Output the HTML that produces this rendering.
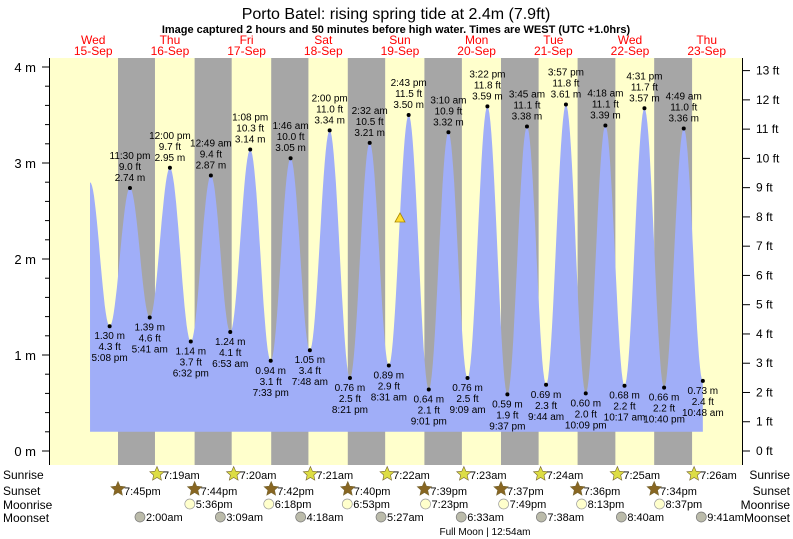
<!DOCTYPE html><html><head><meta charset="utf-8"><style>body{margin:0;background:#fff}svg{display:block;font-family:"Liberation Sans",sans-serif}</style></head><body>
<svg id="s" width="793" height="539" xmlns="http://www.w3.org/2000/svg"></svg>
<script>
var s=document.getElementById('s'),h='';
function X(t){return 54.9+t*3.195}
function Y(m){return 451-m*96}
h+='<rect x="50" y="58" width="692" height="407" fill="#ffffcc"/>';
var ss=[19.75,43.73,67.7,91.67,115.65,139.62,163.6,187.57],sr=[31.32,55.33,79.35,103.37,127.38,151.4,175.42,199.43];
for(var i=0;i<8;i++)h+='<rect x="'+X(ss[i])+'" y="58" width="'+(X(sr[i])-X(ss[i]))+'" height="407" fill="#a6a6a6"/>';
var ev=[[11,2.8],[17.13,1.30],[23.5,2.74],[29.68,1.39],[36,2.95],[42.53,1.14],[48.82,2.87],[54.88,1.24],[61.13,3.14],[67.55,0.94],[73.77,3.05],[79.8,1.05],[86,3.34],[92.35,0.76],[98.53,3.21],[104.52,0.89],[110.72,3.50],[117.02,0.64],[123.17,3.32],[129.15,0.76],[135.37,3.59],[141.62,0.59],[147.75,3.38],[153.73,0.69],[159.95,3.61],[166.15,0.60],[172.3,3.39],[178.28,0.68],[184.52,3.57],[190.67,0.66],[196.82,3.36],[202.8,0.73]];
var p='M'+X(11)+' '+Y(0.2);
for(var i=0;i<ev.length-1;i++){var a=ev[i],b=ev[i+1];for(var k=0;k<=20;k++){var f=k/20,t=a[0]+(b[0]-a[0])*f,m=a[1]+(b[1]-a[1])*(1-Math.cos(Math.PI*f))/2;p+=' L'+X(t).toFixed(1)+' '+Y(m).toFixed(1);}}
p+=' L'+X(202.8)+' '+Y(0.2)+'Z';
h+='<path d="'+p+'" fill="#a0aef8"/>';
var lab=[["5:08 pm",1.30],["11:30 pm",2.74],["5:41 am",1.39],["12:00 pm",2.95],["6:32 pm",1.14],["12:49 am",2.87],["6:53 am",1.24],["1:08 pm",3.14],["7:33 pm",0.94],["1:46 am",3.05],["7:48 am",1.05],["2:00 pm",3.34],["8:21 pm",0.76],["2:32 am",3.21],["8:31 am",0.89],["2:43 pm",3.50],["9:01 pm",0.64],["3:10 am",3.32],["9:09 am",0.76],["3:22 pm",3.59],["9:37 pm",0.59],["3:45 am",3.38],["9:44 am",0.69],["3:57 pm",3.61],["10:09 pm",0.60],["4:18 am",3.39],["10:17 am",0.68],["4:31 pm",3.57],["10:40 pm",0.66],["4:49 am",3.36],["10:48 am",0.73]];
for(var i=0;i<lab.length;i++){var e=ev[i+1],x=X(e[0]),y=Y(e[1]),ft=(e[1]/0.3048).toFixed(1)+' ft',mm=e[1].toFixed(2)+' m';
h+='<circle cx="'+x+'" cy="'+y+'" r="2" fill="#000"/>';
var hi=(i%2==1);var L=hi?[lab[i][0],ft,mm]:[mm,ft,lab[i][0]];var y0=hi?y-29:y+13;
for(var j=0;j<3;j++)h+='<text x="'+x+'" y="'+(y0+j*11)+'" font-size="10" text-anchor="middle">'+L[j]+'</text>';}
h+='<polygon points="400,213 405,222 395,222" fill="#ffdd33" stroke="#aa8800" stroke-width="0.8"/>';
h+='<line x1="49.5" y1="58" x2="49.5" y2="465" stroke="#000"/><line x1="742.5" y1="58" x2="742.5" y2="465" stroke="#000"/>';
for(var m=0;m<=4.01;m+=0.2){var y=Y(m);h+='<line x1="'+(Math.abs(m-Math.round(m))<0.01?42:45)+'" y1="'+y+'" x2="49" y2="'+y+'" stroke="#000"/>';}
for(var m=0;m<=4;m++)h+='<text x="36" y="'+(Y(m)+5)+'" font-size="13" text-anchor="end">'+m+' m</text>';
for(var f=0;f<=13;f++){var y=Y(f*0.3048);h+='<line x1="743" y1="'+y+'" x2="750" y2="'+y+'" stroke="#000"/><text x="756" y="'+(y+4)+'" font-size="12">'+f+' ft</text>';}
h+='<text x="396" y="19" font-size="16" text-anchor="middle">Porto Batel: rising  spring tide at 2.4m (7.9ft)</text>';
h+='<text x="396" y="33" font-size="11" font-weight="bold" text-anchor="middle">Image captured 2 hours and 50 minutes before high water. Times are WEST (UTC +1.0hrs)</text>';
var dn=["Wed","Thu","Fri","Sat","Sun","Mon","Tue","Wed","Thu"];
for(var d=0;d<9;d++){var x=X(d*24+12);h+='<text x="'+x+'" y="44" font-size="12" fill="#ff0000" text-anchor="middle">'+dn[d]+'</text><text x="'+x+'" y="55" font-size="12" fill="#ff0000" text-anchor="middle">'+(15+d)+'-Sep</text>';}
function star(x,y,c){var q='';for(var k=0;k<10;k++){var r=k%2?3.5:7.5,a=Math.PI*k/5-Math.PI/2;q+=(x+r*Math.cos(a)).toFixed(1)+','+(y+r*Math.sin(a)).toFixed(1)+' ';}return '<polygon points="'+q+'" fill="'+c+'" stroke="#776633" stroke-width="0.6"/>';}
var rows=[["Sunrise",475],["Sunset",491],["Moonrise",505],["Moonset",518]];
rows.forEach(function(r){h+='<text x="3" y="'+(r[1]+4)+'" font-size="12">'+r[0]+'</text><text x="790" y="'+(r[1]+4)+'" font-size="12" text-anchor="end">'+r[0]+'</text>';});
var srT=["7:19am","7:20am","7:21am","7:22am","7:23am","7:24am","7:25am","7:26am"],ssT=["7:45pm","7:44pm","7:42pm","7:40pm","7:39pm","7:37pm","7:36pm","7:34pm"];
for(var i=0;i<8;i++){var x=X(sr[i])+2;h+=star(x,474,'#dddd44')+'<text x="'+(x+6)+'" y="479" font-size="11">'+srT[i]+'</text>';
x=X(ss[i]);h+=star(x,489,'#886622')+'<text x="'+(x+6)+'" y="495" font-size="11">'+ssT[i]+'</text>';}
var mr=[[41.6,"5:36pm"],[66.3,"6:18pm"],[90.88,"6:53pm"],[115.38,"7:23pm"],[139.82,"7:49pm"],[164.22,"8:13pm"],[188.62,"8:37pm"]];
mr.forEach(function(m){var x=X(m[0])+2;h+='<circle cx="'+x+'" cy="504" r="5" fill="#ffffcc" stroke="#999" stroke-width="0.7"/><text x="'+(x+6)+'" y="508" font-size="11">'+m[1]+'</text>';});
var ms=[[26,"2:00am"],[51.15,"3:09am"],[76.3,"4:18am"],[101.45,"5:27am"],[126.55,"6:33am"],[151.63,"7:38am"],[176.67,"8:40am"],[201.68,"9:41am"]];
ms.forEach(function(m){var x=X(m[0])+2;h+='<circle cx="'+x+'" cy="517" r="5" fill="#bbbbaa" stroke="#777" stroke-width="0.7"/><text x="'+(x+6)+'" y="521" font-size="11">'+m[1]+'</text>';});
h+='<text x="485" y="535" font-size="10" text-anchor="middle">Full Moon | 12:54am</text>';
s.innerHTML=h;
</script></body></html>
